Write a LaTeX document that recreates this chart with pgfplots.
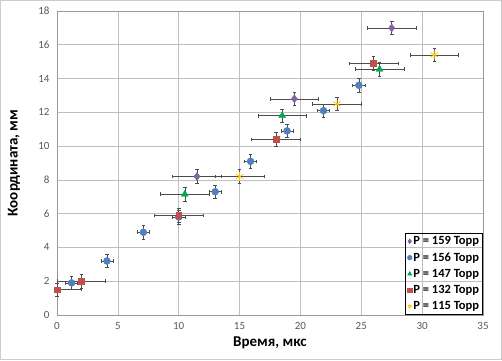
\documentclass[border=0pt]{standalone}
\usepackage{fontspec}
\setmainfont{Carlito}
\usepackage{pgfplots}
\pgfplotsset{compat=1.18}
\definecolor{cpur}{HTML}{8064A2}
\definecolor{cblu}{HTML}{4F81BD}
\definecolor{cgrn}{HTML}{00A84F}
\definecolor{cred}{HTML}{C0504D}
\definecolor{cyel}{HTML}{FFC000}
\definecolor{tickc}{HTML}{595959}
\definecolor{gridc}{HTML}{BFBFBF}
\begin{document}
\begin{tikzpicture}
\useasboundingbox (0,0) rectangle (502pt,360pt);
\draw[gray!40, line width=0.8pt] (0.5pt,0.5pt) rectangle (501.5pt,359.5pt);
\begin{axis}[
  at={(57pt,45pt)}, anchor=south west,
  scale only axis, width=426pt, height=304pt,
  xmin=0, xmax=35, ymin=0, ymax=18,
  xtick={0,5,...,35}, ytick={0,2,...,18},
  grid=major, major grid style={gridc, line width=0.7pt},
  axis line style={gray!80, line width=0.8pt},
  major tick length=0pt,
  clip=false,
  /pgf/number format/assume math mode=true,
  tick label style={font=\fontsize{11}{12}\selectfont, text=tickc},
  xticklabel style={yshift=-4pt},
  yticklabel style={xshift=-4pt},
  xlabel={Время, мкс}, ylabel={Координата, мм},
  label style={font=\bfseries\fontsize{15}{17}\selectfont},
  xlabel style={at={(axis description cs:0.5,-0.105)}, anchor=base},
  ylabel style={at={(axis description cs:-0.101,0.5)}, anchor=center},
  legend style={at={(rel axis cs:1,0)}, anchor=south east, draw=black, line width=0.8pt, fill=none,
    font=\bfseries\fontsize{12.5}{13.5}\selectfont, row sep=3.5pt, inner sep=2pt,
    nodes={inner sep=1.5pt}},
  legend image post style={mark size=2.2pt},
  legend cell align=left,
  error bars/x dir=both, error bars/x explicit,
  error bars/y dir=both, error bars/y explicit,
  error bars/error bar style={gray!60!black, line width=0.6pt},
  error bars/error mark options={rotate=90, mark size=1.8pt, line width=0.6pt, gray!60!black},
]
\addplot[only marks, mark=diamond*, mark size=4pt, color=cpur, mark options={fill=cpur}]
  table[x=x, y=y, x error plus=xp, x error minus=xm, y error plus=yp, y error minus=ym] {
x y xp xm yp ym
11.5 8.2 2 2 0.4 0.4
19.5 12.8 2 2 0.4 0.4
27.5 17.0 2 2 0.4 0.4
};
\addlegendentry{P = 159 Торр}
\addplot[only marks, mark=*, mark size=3.5pt, color=cblu, mark options={fill=cblu}]
  table[x=x, y=y, x error plus=xp, x error minus=xm, y error plus=yp, y error minus=ym] {
x y xp xm yp ym
1.2 1.9 0.5 0.5 0.4 0.4
4.1 3.2 0.5 0.5 0.4 0.4
7.1 4.9 0.5 0.5 0.4 0.4
10.0 5.8 0.5 0.5 0.4 0.4
13.0 7.3 0.5 0.5 0.4 0.4
15.9 9.1 0.5 0.5 0.4 0.4
18.9 10.9 0.5 0.5 0.4 0.4
21.9 12.1 0.5 0.5 0.4 0.4
24.8 13.6 0.5 0.5 0.4 0.4
};
\addlegendentry{P = 156 Торр}
\addplot[only marks, mark=triangle*, mark size=4pt, color=cgrn, mark options={fill=cgrn}]
  table[x=x, y=y, x error plus=xp, x error minus=xm, y error plus=yp, y error minus=ym] {
x y xp xm yp ym
10.5 7.15 2 2 0.4 0.4
18.5 11.8 2 2 0.4 0.4
26.5 14.55 2 2 0.4 0.4
};
\addlegendentry{P = 147 Торр}
\addplot[only marks, mark=square*, mark size=2.8pt, color=cred, mark options={fill=cred}]
  table[x=x, y=y, x error plus=xp, x error minus=xm, y error plus=yp, y error minus=ym] {
x y xp xm yp ym
0 1.5 2 0 0.4 0.4
2 2.0 2 2 0.4 0.4
10 5.9 2 2 0.4 0.4
18 10.4 2 2 0.4 0.4
26 14.9 2 2 0.4 0.4
};
\addlegendentry{P = 132 Торр}
\addplot[only marks, mark=asterisk, mark size=4.5pt, color=cyel, mark options={line width=0.7pt}]
  table[x=x, y=y, x error plus=xp, x error minus=xm, y error plus=yp, y error minus=ym] {
x y xp xm yp ym
15 8.2 2 2 0.4 0.4
23 12.5 2 2 0.4 0.4
31 15.4 2 2 0.4 0.4
};
\addlegendentry{P = 115 Торр}
\end{axis}
\end{tikzpicture}
\end{document}
